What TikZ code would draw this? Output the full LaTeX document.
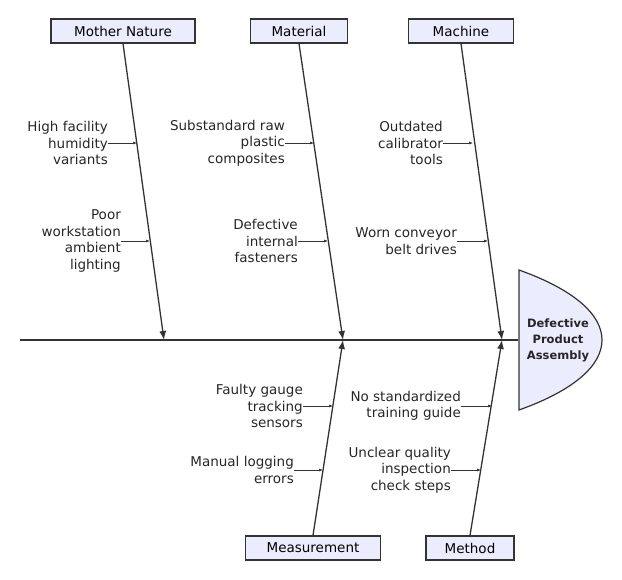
\documentclass[tikz,border=0pt]{standalone}
\usepackage{fontspec}
\setmainfont{DejaVu Sans}
\usetikzlibrary{arrows.meta,calc}
\definecolor{lav}{HTML}{ECECFF}
\definecolor{ink}{HTML}{333333}
\begin{document}
\begin{tikzpicture}[x=1pt,y=-1pt,
  cat/.style={draw=ink,fill=lav,line width=1.2pt,minimum height=24pt,inner sep=0pt,font=\fontsize{13.5}{15}\selectfont},
  cause/.style={anchor=east,align=right,inner sep=0pt,font=\fontsize{13.5}{16.5}\selectfont,text=black!85},
  bone/.style={draw=ink,line width=1.3pt,-{Latex[length=9pt,width=7pt]}},
  sub/.style={draw=ink,line width=0.6pt,-{Latex[length=4pt,width=3pt]}}]
\useasboundingbox (0,0) rectangle (622,580);
% spine
\coordinate (s0) at (20,340);
\coordinate (s1) at (518,340);
\draw[ink,line width=1.3pt] (s0) -- (s1);
% head
\draw[draw=ink,fill=lav,line width=1.2pt] (519,270) .. controls (575,290) and (602,315) .. (602,340) .. controls (602,365) and (575,390) .. (519,410) -- cycle;
\node[font=\bfseries\fontsize{11.5}{16}\selectfont,align=center,text=black!85] (head) at (558,340) {Defective\\Product\\Assembly};
% categories
\node[cat,minimum width=144pt] (mn) at (123,31) {Mother Nature};
\node[cat,minimum width=97pt] (mat) at (299,31) {Material};
\node[cat,minimum width=105pt] (mac) at (461,31) {Machine};
\node[cat,minimum width=135pt] (mea) at (313,548) {Measurement};
\node[cat,minimum width=88pt] (met) at (470,548) {Method};
\coordinate (e1) at (164,340);
\coordinate (e2) at (343,340);
\coordinate (e3) at (502,340);
\draw[bone] (mn.south) -- (e1);
\draw[bone] (mat.south) -- (e2);
\draw[bone] (mac.south) -- (e3);
\draw[bone] (mea.north) -- (e2);
\draw[bone] (met.north) -- (e3);
% causes
\coordinate (b1) at (137,143); \coordinate (b2) at (150,241);
\coordinate (b3) at (314,143); \coordinate (b4) at (328,241);
\coordinate (b5) at (473,143); \coordinate (b6) at (488,241);
\coordinate (b7) at (333,406); \coordinate (b8) at (323,470);
\coordinate (b9) at (492,406); \coordinate (b10) at (481,470);
\node[cause] (c1) at (108,143) {High facility\\humidity\\variants};
\node[cause] (c2) at (121,241) {Poor\\workstation\\ambient\\lighting};
\node[cause] (c3) at (285,143) {Substandard raw\\plastic\\composites};
\node[cause] (c4) at (298,241) {Defective\\internal\\fasteners};
\node[cause] (c5) at (443,143) {Outdated\\calibrator\\tools};
\node[cause] (c6) at (457,241) {Worn conveyor\\belt drives};
\node[cause] (c7) at (303,406) {Faulty gauge\\tracking\\sensors};
\node[cause] (c8) at (294,470) {Manual logging\\errors};
\node[cause] (c9) at (461,406) {No standardized\\training guide};
\node[cause] (c10) at (451,470) {Unclear quality\\inspection\\check steps};
\foreach \i in {1,...,10} \draw[sub] (c\i.east) -- (b\i);
\end{tikzpicture}
\end{document}
